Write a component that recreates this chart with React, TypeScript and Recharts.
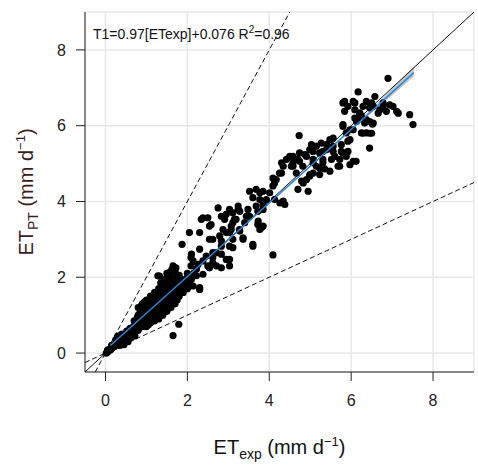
import {
  ComposedChart,
  Scatter,
  Area,
  XAxis,
  YAxis,
  CartesianGrid,
  ReferenceLine,
} from 'recharts';

const nearZero: [number, number][] = [
  [0.02, 0.0], [0.05, 0.03], [0.08, 0.06], [0.1, 0.1], [0.12, 0.08], [0.15, 0.12],
  [0.18, 0.15], [0.2, 0.2], [0.22, 0.17], [0.25, 0.22], [0.28, 0.25], [0.3, 0.28],
  [0.32, 0.22], [0.35, 0.3], [0.38, 0.27], [0.4, 0.35], [0.42, 0.3], [0.45, 0.4],
  [0.48, 0.28], [0.5, 0.45], [0.3, 0.45], [0.25, 0.35], [0.4, 0.5], [0.35, 0.2],
  [0.5, 0.32], [0.45, 0.22], [0.55, 0.45], [0.6, 0.5], [0.65, 0.6], [0.7, 0.55],
  [0.75, 0.7], [0.6, 0.65], [0.7, 0.85], [0.55, 0.3], [0.62, 0.4], [0.68, 0.7],
  [0.72, 0.45], [0.15, 0.2], [0.05, 0.08], [0.52, 0.58],
];

const blob: [number, number][] = [
  [0.8, 0.6], [0.8, 0.8], [0.8, 1.0], [0.8, 1.2], [0.9, 0.7], [0.9, 0.9], [0.9, 1.1],
  [0.9, 1.3], [1.0, 0.7], [1.0, 0.85], [1.0, 1.0], [1.0, 1.2], [1.0, 1.4], [1.1, 0.8],
  [1.1, 1.0], [1.1, 1.15], [1.1, 1.3], [1.1, 1.5], [1.2, 0.85], [1.2, 1.0], [1.2, 1.2],
  [1.2, 1.4], [1.2, 1.6], [1.3, 0.9], [1.3, 1.1], [1.3, 1.3], [1.3, 1.5], [1.3, 1.7],
  [1.32, 2.03], [1.4, 1.0], [1.4, 1.2], [1.4, 1.4], [1.4, 1.6], [1.4, 1.8], [1.5, 1.1],
  [1.5, 1.3], [1.5, 1.5], [1.5, 1.7], [1.5, 1.9], [1.5, 2.1], [1.6, 1.2], [1.6, 1.4],
  [1.6, 1.6], [1.6, 1.8], [1.6, 2.0], [1.65, 2.3], [1.7, 1.3], [1.7, 1.5], [1.7, 1.75],
  [1.7, 1.95], [1.7, 2.15], [1.8, 1.5], [1.81, 1.77], [1.8, 1.9], [1.8, 2.05],
  [1.9, 1.6], [1.9, 1.85], [1.97, 1.95], [2.0, 1.7], [2.05, 1.86], [2.0, 2.1],
  [1.65, 0.46], [1.79, 0.76], [1.28, 2.04], [1.56, 2.12],
  [0.85, 0.7], [0.85, 0.9], [0.85, 1.1], [0.95, 0.8], [0.95, 1.0], [0.95, 1.2],
  [0.95, 1.35], [1.05, 0.75], [1.05, 0.95], [1.05, 1.1], [1.05, 1.3], [1.15, 0.9],
  [1.15, 1.1], [1.15, 1.25], [1.15, 1.45], [1.25, 0.95], [1.25, 1.15], [1.25, 1.35],
  [1.25, 1.55], [1.35, 1.0], [1.35, 1.2], [1.35, 1.4], [1.35, 1.6], [1.35, 1.85],
  [1.45, 1.1], [1.45, 1.3], [1.45, 1.5], [1.45, 1.7], [1.45, 1.95], [1.55, 1.2],
  [1.55, 1.4], [1.55, 1.6], [1.55, 1.8], [1.55, 2.0], [1.62, 2.2], [1.65, 1.3],
  [1.65, 1.5], [1.65, 1.7], [1.65, 1.9], [1.75, 1.4], [1.75, 1.6], [1.75, 1.85],
  [1.75, 2.05], [1.85, 1.6], [1.85, 1.8], [1.85, 1.95], [1.95, 1.75], [0.88, 1.25],
  [0.78, 0.95], [1.72, 2.25], [2.1, 1.95], [2.15, 2.1],
];

const middle: [number, number][] = [
  [2.3, 1.73], [2.22, 2.04], [2.38, 2.08], [2.14, 1.77], [2.3, 1.68], [2.09, 2.52],
  [2.09, 2.3], [2.26, 2.34], [2.3, 2.74], [2.46, 2.56], [2.5, 2.3], [2.34, 3.53],
  [2.5, 3.57], [2.54, 3.35], [2.62, 3.0], [2.71, 2.65], [2.83, 2.82], [2.95, 2.47],
  [3.03, 2.3], [2.71, 2.3], [2.62, 2.39], [3.03, 2.82], [2.79, 3.09], [2.87, 3.26],
  [2.83, 3.61], [2.95, 3.66], [3.11, 3.7], [3.19, 3.53], [3.24, 3.79], [3.07, 3.35],
  [3.27, 3.26], [3.44, 3.61], [3.48, 3.79], [3.36, 3.0], [3.6, 2.82], [2.95, 3.18],
  [3.11, 3.0], [2.62, 2.65], [2.3, 3.18], [2.75, 3.83], [3.4, 3.44], [2.38, 3.57],
  [2.58, 3.39], [2.05, 3.18], [1.87, 2.87], [3.24, 3.88], [3.11, 3.44], [3.28, 3.22],
  [3.03, 3.18], [2.83, 2.96], [2.54, 3.0], [2.1, 2.61], [2.14, 2.43], [2.38, 2.43],
  [2.62, 2.52], [2.83, 2.61], [3.03, 2.47], [2.83, 2.25], [2.54, 2.25], [2.22, 2.21],
  [3.03, 3.79], [2.91, 3.53], [3.15, 3.53], [3.07, 3.26], [3.36, 3.04], [3.11, 2.78],
  [3.28, 3.74], [3.52, 3.61], [3.72, 3.74], [3.72, 3.39], [3.81, 3.31], [3.6, 2.87],
];

const upper: [number, number][] = [
  [3.68, 4.32], [3.85, 4.27], [3.77, 4.05], [3.68, 3.88], [3.85, 3.79], [3.93, 4.05],
  [4.01, 4.23], [3.85, 3.35], [3.73, 3.48], [3.77, 3.26], [4.09, 4.41], [4.13, 4.05],
  [4.17, 4.58], [4.3, 4.75], [4.34, 4.93], [4.26, 3.96], [4.38, 3.92], [4.09, 2.59],
  [3.52, 4.27], [3.6, 4.1], [3.77, 4.23], [3.85, 3.92], [4.09, 4.62], [4.13, 4.49],
  [4.25, 4.75], [4.34, 4.01], [4.5, 5.19], [4.58, 5.02], [4.7, 5.11], [4.74, 5.28],
  [4.82, 4.93], [4.91, 5.19], [4.99, 5.37], [5.07, 5.11], [5.15, 5.46], [5.23, 5.28],
  [5.31, 5.02], [5.4, 5.37], [5.07, 4.75], [5.15, 4.93], [5.23, 4.71], [4.91, 4.58],
  [4.79, 4.54], [4.7, 4.32], [4.95, 4.27], [4.73, 5.74], [4.42, 5.11], [4.66, 4.75],
  [5.35, 4.86], [4.3, 5.02], [4.54, 4.93], [4.83, 4.49], [4.99, 4.67], [5.03, 5.5],
  [5.27, 5.54], [5.4, 5.5], [5.07, 5.32], [4.87, 5.24], [4.58, 5.19], [4.74, 5.06],
  [5.31, 5.32], [5.31, 5.11], [5.23, 4.88], [5.07, 5.02], [4.58, 4.93], [4.99, 4.71],
];

const top: [number, number][] = [
  [5.48, 5.63], [5.56, 5.46], [5.6, 5.19], [5.72, 5.11], [5.68, 4.93], [5.8, 5.28],
  [5.88, 5.19], [5.97, 4.97], [6.12, 5.06], [5.8, 5.98], [5.88, 5.81], [5.97, 5.63],
  [6.05, 5.89], [6.17, 6.16], [6.25, 6.25], [6.33, 6.07], [6.37, 5.81], [6.25, 5.81],
  [6.45, 5.41], [6.52, 6.04], [5.84, 6.64], [5.92, 6.51], [6.05, 6.64], [6.17, 6.89],
  [6.29, 6.51], [6.09, 6.42], [5.84, 6.38], [5.8, 6.6], [6.09, 6.6], [6.37, 6.64],
  [6.54, 6.51], [6.21, 6.33], [6.45, 6.11], [6.13, 6.11], [5.97, 5.89], [5.8, 6.03],
  [6.45, 5.8], [5.92, 5.59], [5.76, 5.5], [5.56, 5.67], [5.56, 5.32], [5.76, 5.32],
  [5.92, 5.32], [5.52, 5.11], [5.72, 4.93], [5.48, 4.8], [6.05, 5.06], [6.5, 6.6],
  [6.78, 6.6], [6.94, 6.55], [6.7, 6.42], [6.86, 6.38], [7.11, 6.38], [7.02, 6.51],
  [6.45, 6.47], [6.21, 6.33], [6.09, 6.2], [6.37, 6.16], [6.54, 6.07], [6.29, 5.8],
  [6.5, 5.8], [6.9, 7.25], [7.43, 6.29], [7.51, 6.03], [6.66, 6.33], [6.78, 6.51],
  [7.15, 6.33], [6.58, 6.77],
];

// fitted line and its confidence band
const fitX = [0.12, 2, 4, 6, 6.6, 7.0, 7.53];
const fitY = [0.2, 2.02, 3.96, 5.9, 6.48, 6.88, 7.4];
const bandLo = [0.18, 2.0, 3.94, 5.87, 6.44, 6.8, 7.3];
const bandHi = [0.22, 2.04, 3.98, 5.93, 6.55, 6.98, 7.55];

const ticks = [0, 2, 4, 6, 8];
const domain: [number, number] = [-0.5, 9];

const points = [...nearZero, ...blob, ...middle, ...upper, ...top].map(([x, y]) => ({ x, y }));
const fitData = fitX.map((x, i) => ({ x, y: fitY[i] }));
const bandData = fitX.map((x, i) => ({ x, band: [bandLo[i], bandHi[i]] }));

const font = 'Liberation Sans, Arial, sans-serif';
const tickStyle = { fill: '#222', fontSize: 16, fontFamily: font };

const Dot = (p: any) => <circle cx={p.cx} cy={p.cy} r={3.6} fill="#000" />;

const XTitle = (p: any) => {
  const vb = p.viewBox;
  return (
    <text x={vb.x + vb.width / 2} y={vb.y + 82} textAnchor="middle" fontSize={20} fill="#111" fontFamily={font}>
      ET<tspan fontSize={14} dy={5}>exp</tspan>
      <tspan dy={-5}> (mm d</tspan>
      <tspan fontSize={13} dy={-8}>−1</tspan>
      <tspan dy={8}>)</tspan>
    </text>
  );
};

const YTitle = () => (
  <text transform="rotate(-90, 33, 192)" x={33} y={192} textAnchor="middle" fontSize={20} fill="#3a1c1c" fontFamily={font}>
    ET<tspan fontSize={14} dy={5}>PT</tspan>
    <tspan dy={-5}> (mm d</tspan>
    <tspan fontSize={13} dy={-8}>−1</tspan>
    <tspan dy={8}>)</tspan>
  </text>
);

export default function App() {
  return (
    <div style={{ position: 'relative', width: 478, height: 467, background: '#fff' }}>
      <style>{'body{margin:0}'}</style>
      <ComposedChart width={478} height={467} margin={{ top: 12, right: 4, left: 0, bottom: 0 }}>
        <CartesianGrid stroke="#e8e8e8" strokeWidth={1.5} />
        <XAxis
          dataKey="x"
          type="number"
          domain={domain}
          ticks={ticks}
          allowDataOverflow
          height={95}
          tickSize={9}
          tickMargin={14}
          stroke="#222"
          tick={tickStyle}
          label={{ content: XTitle }}
        />
        <XAxis xAxisId="top" orientation="top" type="number" domain={domain} ticks={ticks} height={0} tickSize={9} stroke="#222" tick={() => <g />} />
        <YAxis
          dataKey="y"
          type="number"
          domain={domain}
          ticks={ticks}
          allowDataOverflow
          width={85}
          tickSize={9}
          tickMargin={10}
          stroke="#222"
          tick={tickStyle}
          label={{ content: YTitle }}
        />
        <YAxis yAxisId="right" orientation="right" type="number" domain={domain} ticks={ticks} width={0} tickSize={9} stroke="#222" tick={() => <g />} />
        <ReferenceLine segment={[{ x: -0.5, y: -0.5 }, { x: 9, y: 9 }]} stroke="#111" strokeWidth={1} />
        <ReferenceLine segment={[{ x: -0.25, y: -0.5 }, { x: 4.5, y: 9 }]} stroke="#111" strokeWidth={1} strokeDasharray="5 3" />
        <ReferenceLine segment={[{ x: -0.5, y: -0.25 }, { x: 9, y: 4.5 }]} stroke="#111" strokeWidth={1} strokeDasharray="5 3" />
        <Area data={bandData} dataKey="band" type="linear" stroke="none" fill="#a9a9a9" fillOpacity={0.7} isAnimationActive={false} />
        <Scatter data={points} shape={Dot} isAnimationActive={false} />
        <Scatter
          data={fitData}
          line={{ stroke: '#2a86dc', strokeWidth: 1.5 }}
          shape={() => <g />}
          isAnimationActive={false}
        />
      </ComposedChart>
      <div style={{ position: 'absolute', left: 93, top: 24, fontFamily: font, fontSize: 14, color: '#111', whiteSpace: 'nowrap' }}>
        T1=0.97[ETexp]+0.076 R<sup style={{ fontSize: 10 }}>2</sup>=0.96
      </div>
    </div>
  );
}
